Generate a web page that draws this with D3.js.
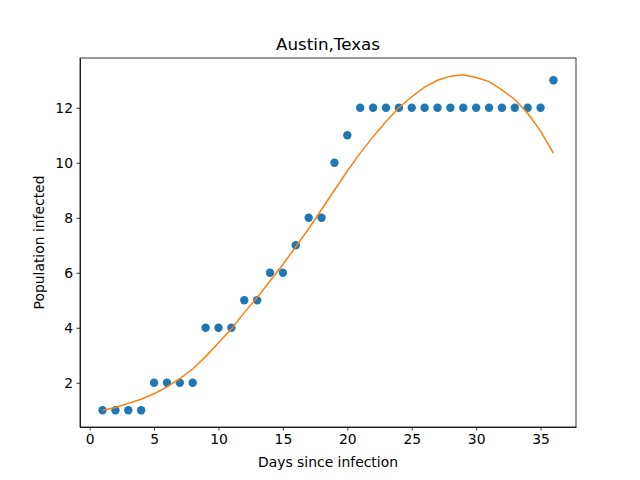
<!DOCTYPE html>
<html><head><meta charset="utf-8">
<script src="https://cdn.jsdelivr.net/npm/d3@7"></script>
<style>
body{margin:0;background:#fff}
text{font-family:"DejaVu Sans",sans-serif}
.axis text{font-size:13.9px;fill:#000}
.axis path,.axis line{stroke:#000;stroke-width:0.8}
</style></head><body>
<svg id="chart" width="640" height="480"></svg>
<script>
var days = d3.range(1, 37);
var infected = [1,1,1,1,2,2,2,2,4,4,4,5,5,6,6,7,8,8,10,11,12,12,12,12,12,12,12,12,12,12,12,12,12,12,12,13];
var fitted = [1.0,1.1,1.25,1.4,1.6,1.85,2.15,2.5,2.95,3.45,3.95,4.55,5.1,5.7,6.3,6.95,7.6,8.3,9.0,9.7,10.35,10.95,11.5,12.0,12.4,12.75,13.0,13.15,13.2,13.1,12.95,12.65,12.3,11.8,11.15,10.35];
var xTicks = [0,5,10,15,20,25,30,35];
var yTicks = [2,4,6,8,10,12];

var svg = d3.select("#chart"),
    margin = {top: 58, right: 64, bottom: 53, left: 80},
    width = 640 - margin.left - margin.right,
    height = 480 - margin.top - margin.bottom,
    g = svg.append("g").attr("transform", "translate(" + margin.left + "," + margin.top + ")");

var x = d3.scaleLinear().domain([-0.75, 37.75]).range([0, width]);
var y = d3.scaleLinear().domain([0.39, 13.81]).range([height, 0]);

g.append("g").attr("class", "axis")
    .attr("transform", "translate(0," + height + ")")
    .call(d3.axisBottom(x).tickValues(xTicks).tickSizeInner(3.5).tickSizeOuter(0).tickPadding(3.5));
g.append("g").attr("class", "axis")
    .call(d3.axisLeft(y).tickValues(yTicks).tickSizeInner(3.5).tickSizeOuter(0).tickPadding(3.5));
g.append("rect").attr("width", width).attr("height", height)
    .attr("fill", "none").attr("stroke", "#000").attr("stroke-width", 0.8);

g.selectAll("circle").data(days).enter().append("circle")
    .attr("cx", function(d) { return x(d); })
    .attr("cy", function(d, i) { return y(infected[i]); })
    .attr("r", 4.2).attr("fill", "#1f77b4");

var line = d3.line()
    .x(function(d) { return x(d); })
    .y(function(d, i) { return y(fitted[i]); });
g.append("path").datum(days).attr("d", line)
    .attr("fill", "none").attr("stroke", "#ff7f0e").attr("stroke-width", 1.5);

svg.append("text").attr("x", margin.left + width / 2).attr("y", 50)
    .attr("text-anchor", "middle").style("font-size", "16.7px").text("Austin,Texas");
svg.append("text").attr("x", margin.left + width / 2).attr("y", 467)
    .attr("text-anchor", "middle").style("font-size", "13.9px").text("Days since infection");
svg.append("text").attr("transform", "translate(44," + (margin.top + height / 2) + ") rotate(-90)")
    .attr("text-anchor", "middle").style("font-size", "13.9px").text("Population infected");
</script>
</body></html>
